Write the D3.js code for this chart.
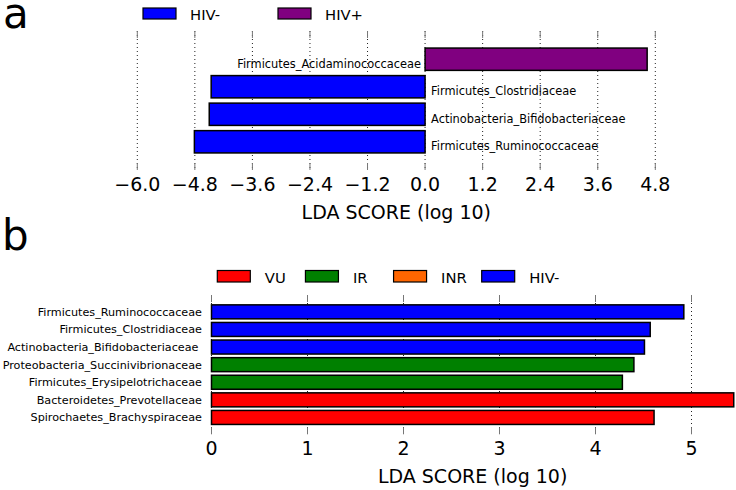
<!DOCTYPE html>
<html><head><meta charset="utf-8">
<script src="https://cdn.jsdelivr.net/npm/d3@7"></script>
<style>
html,body{margin:0;padding:0;background:#fff;}
svg{display:block;font-family:"DejaVu Sans",sans-serif;}
text{white-space:pre;}
</style></head>
<body><svg id="c" width="736" height="490"></svg>
<script>
// ---- Panel a data ----
const taxaA = ["Firmicutes_Acidaminococcaceae","Firmicutes_Clostridiaceae","Actinobacteria_Bifidobacteriaceae","Firmicutes_Ruminococcaceae"];
const scoresA = [4.63, -4.46, -4.50, -4.81];
const groupsA = ["HIV+","HIV-","HIV-","HIV-"];
const legendA = ["HIV-","HIV+"];
const ticksA = [-6.0,-4.8,-3.6,-2.4,-1.2,0.0,1.2,2.4,3.6,4.8];
// ---- Panel b data ----
const taxaB = ["Firmicutes_Ruminococcaceae","Firmicutes_Clostridiaceae","Actinobacteria_Bifidobacteriaceae ","Proteobacteria_Succinivibrionaceae","Firmicutes_Erysipelotrichaceae","Bacteroidetes_Prevotellaceae","Spirochaetes_Brachyspiraceae"];
const scoresB = [4.92, 4.57, 4.51, 4.40, 4.28, 5.44, 4.61];
const groupsB = ["HIV-","HIV-","HIV-","IR","IR","VU","VU"];
const legendB = ["VU","IR","INR","HIV-"];
const ticksB = [0,1,2,3,4,5];

const color = d3.scaleOrdinal()
  .domain(["HIV-","HIV+","VU","IR","INR"])
  .range(["#0000ff","#800080","#ff0000","#008000","#ff6600"]);

const svg = d3.select("#c");
const FONT_TICK = 19, FONT_LBL_A = 11.4, FONT_LBL_B = 11.2, FONT_LEG = 14.8;

function gridAndTicks(g, x, ticks, y0, y1, fmt){
  g.selectAll(".grid").data(ticks).join("line")
    .attr("x1", d=>x(d)).attr("x2", d=>x(d))
    .attr("y1", y0).attr("y2", y1)
    .attr("stroke","#222").attr("stroke-width",1)
    .attr("stroke-dasharray","1,3");
  g.selectAll(".tt").data(ticks).join("line")
    .attr("x1", d=>x(d)).attr("x2", d=>x(d))
    .attr("y1", y0).attr("y2", y0+7)
    .attr("stroke","#777").attr("stroke-width",1);
  g.selectAll(".tb").data(ticks).join("line")
    .attr("x1", d=>x(d)).attr("x2", d=>x(d))
    .attr("y1", y1-7).attr("y2", y1)
    .attr("stroke","#777").attr("stroke-width",1);
  g.selectAll(".tl").data(ticks).join("text")
    .attr("x", d=>x(d)).attr("y", y1+21)
    .attr("text-anchor","middle").attr("font-size",FONT_TICK)
    .attr("fill","#000").text(fmt);
}

// ---------- Panel a ----------
{
  const top = 31, bottom = 170;
  const x = d3.scaleLinear().domain([-6.0, 4.8]).range([137.3, 655.3]);
  const y = d3.scaleBand().domain(taxaA).range([top, bottom]).paddingInner(0.19).paddingOuter(0.62);
  const g = svg.append("g");
  gridAndTicks(g, x, ticksA, top, bottom, d3.format(".1f"));
  g.selectAll(".bar").data(taxaA).join("rect")
    .attr("x", (d,i)=>x(Math.min(0,scoresA[i])))
    .attr("width", (d,i)=>Math.abs(x(scoresA[i])-x(0)))
    .attr("y", d=>y(d)).attr("height", y.bandwidth())
    .attr("fill",(d,i)=>color(groupsA[i]))
    .attr("stroke","#000").attr("stroke-width",1.5);
  g.selectAll(".lab").data(taxaA).join("text")
    .attr("x",(d,i)=> scoresA[i] > 0 ? x(0)-4 : x(0)+6)
    .attr("y", d=>y(d)+y.bandwidth()/2+8.3)
    .attr("text-anchor",(d,i)=> scoresA[i] > 0 ? "end" : "start")
    .attr("font-size",FONT_LBL_A).text(d=>d);
  g.append("text").attr("x",(x(-6)+x(4.8))/2).attr("y",219)
    .attr("text-anchor","middle").attr("font-size",FONT_TICK).text("LDA SCORE (log 10)");
  // legend
  const lx = d3.scalePoint().domain(legendA).range([143,278]);
  const lg = g.selectAll(".leg").data(legendA).join("g");
  lg.append("rect").attr("x",d=>lx(d)).attr("y",8).attr("width",33).attr("height",11)
    .attr("fill",d=>color(d)).attr("stroke","#000").attr("stroke-width",1.2);
  lg.append("text").attr("x",d=>lx(d)+47).attr("y",19.5).attr("font-size",FONT_LEG).text(d=>d);
  svg.append("text").attr("x",3).attr("y",28).attr("font-size",42).text("a");
}

// ---------- Panel b ----------
{
  const top = 295, bottom = 434.3;
  const x = d3.scaleLinear().domain([0, d3.max(scoresB)]).range([211.5, 211.5 + 96*d3.max(scoresB)]);
  const y = d3.scaleBand().domain(taxaB).range([top, bottom]).paddingInner(0.205).paddingOuter(0.56);
  const g = svg.append("g");
  gridAndTicks(g, x, ticksB, top, bottom, d3.format("d"));
  g.selectAll(".bar").data(taxaB).join("rect")
    .attr("x", x(0))
    .attr("width", (d,i)=>x(scoresB[i])-x(0))
    .attr("y", d=>y(d)).attr("height", y.bandwidth())
    .attr("fill",(d,i)=>color(groupsB[i]))
    .attr("stroke","#000").attr("stroke-width",1.5);
  g.selectAll(".lab").data(taxaB).join("text")
    .attr("x", x(0)-9.5)
    .attr("y", d=>y(d)+y.bandwidth()/2+4)
    .attr("text-anchor","end")
    .attr("font-size",FONT_LBL_B).text(d=>d);
  g.append("text").attr("x",(x(0)+x(d3.max(scoresB)))/2).attr("y",483)
    .attr("text-anchor","middle").attr("font-size",FONT_TICK).text("LDA SCORE (log 10)");
  const lx = d3.scalePoint().domain(legendB).range([217.3,481.7]);
  const lg = g.selectAll(".leg").data(legendB).join("g");
  lg.append("rect").attr("x",d=>lx(d)).attr("y",270.5).attr("width",33).attr("height",11.5)
    .attr("fill",d=>color(d)).attr("stroke","#000").attr("stroke-width",1.2);
  lg.append("text").attr("x",d=>lx(d)+47.5).attr("y",282.5).attr("font-size",FONT_LEG).text(d=>d);
  svg.append("text").attr("x",2).attr("y",250).attr("font-size",42).text("b");
}
</script></body></html>
